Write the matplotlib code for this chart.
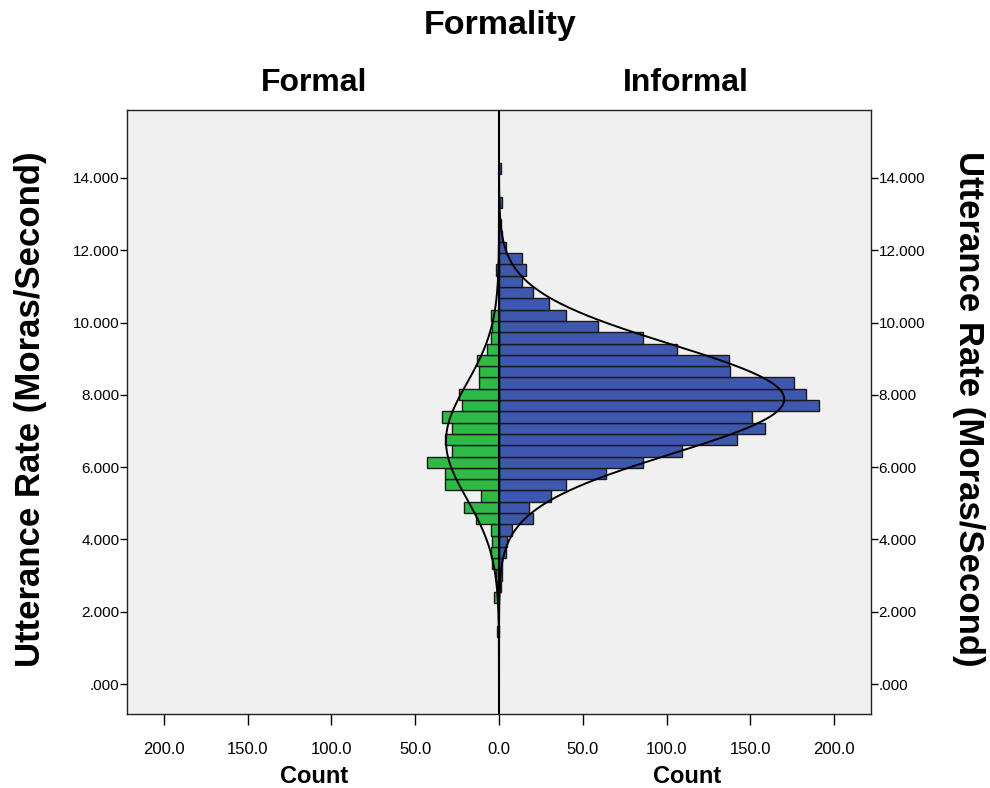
import matplotlib
matplotlib.use("Agg")
import matplotlib.pyplot as plt
import numpy as np
from matplotlib.ticker import FuncFormatter

# Histogram bins (Moras/Second), lowest bin first
bin_width = 0.3125
first_bin_low = 1.2935
informal_counts = [0, 0, 0, 0, 1, 2, 2, 4, 5, 8, 20, 18, 31, 40, 64, 86, 109, 142, 159, 151, 191,
                   183, 176, 138, 137, 106, 86, 59, 40, 30, 20, 14, 16, 14, 4, 2, 1, 0, 2, 0, 0, 1]
formal_counts = [1, 0, 0, 3, 1, 2, 4, 5, 4, 5, 14, 21, 11, 32, 32, 43, 28, 32, 28, 34, 22,
                 24, 12, 12, 13, 7, 5, 4, 5, 0, 0, 0, 2, 0, 0, 0, 0, 0, 0, 0, 0, 0]

# Normal curve parameters for each group
informal_mean, informal_sd = 7.88, 1.51
formal_mean, formal_sd = 6.72, 1.60

x_ticks = [-200, -150, -100, -50, 0, 50, 100, 150, 200]
y_ticks = [0, 2, 4, 6, 8, 10, 12, 14]

blue = '#3D58AC'
green = '#2DBA45'
font = ['Liberation Sans', 'DejaVu Sans']
plt.rcParams['font.family'] = font

informal = np.array(informal_counts, dtype=float)
formal = np.array(formal_counts, dtype=float)
centers = first_bin_low + bin_width * (np.arange(len(informal)) + 0.5)

fig = plt.figure(figsize=(9.9, 7.88), dpi=100)
ax = fig.add_axes([0.1283, 0.0939, 0.7515, 0.7665])
ax.set_facecolor('#F0F0F0')

keep = informal > 0
ax.barh(centers[keep], informal[keep], height=bin_width, color=blue,
        edgecolor='#1a1a1a', linewidth=1.0, zorder=2)
keep = formal > 0
ax.barh(centers[keep], -formal[keep], height=bin_width, color=green,
        edgecolor='#1a1a1a', linewidth=1.0, zorder=2)

# Normal curves scaled to counts
ylo, yhi = -0.83, 15.88
yy = np.linspace(ylo, yhi, 600)
def normal_counts(mean, sd, n):
    return n * bin_width / (sd * np.sqrt(2 * np.pi)) * np.exp(-0.5 * ((yy - mean) / sd) ** 2)

ax.plot(normal_counts(informal_mean, informal_sd, informal.sum()), yy, color='black', lw=1.4, zorder=3)
ax.plot(-normal_counts(formal_mean, formal_sd, formal.sum()), yy, color='black', lw=1.4, zorder=3)
ax.axvline(0, color='black', lw=1.5, zorder=4)

ax.set_xlim(-222, 222)
ax.set_ylim(ylo, yhi)
ax.set_xticks(x_ticks)
ax.xaxis.set_major_formatter(FuncFormatter(lambda v, p: f"{abs(v):.1f}"))
ax.set_yticks(y_ticks)

def rate_fmt(v, p):
    s = f"{v:.3f}"
    return s[1:] if s.startswith('0') else s

ax.yaxis.set_major_formatter(FuncFormatter(rate_fmt))
ax.tick_params(axis='x', direction='out', length=8, width=1, pad=12, labelsize=12)
ax.tick_params(axis='y', direction='out', length=5, width=1, pad=0.5, labelsize=11,
               left=True, right=True, labelleft=True, labelright=True)
for s in ax.spines.values():
    s.set_color('#222222')
    s.set_linewidth(1.0)

bold = dict(fontweight='bold', family=font)
fig.text(0.505, 0.968, 'Formality', ha='center', va='center', fontsize=24.5, **bold)
fig.text(0.317, 0.895, 'Formal', ha='center', va='center', fontsize=23, **bold)
fig.text(0.693, 0.895, 'Informal', ha='center', va='center', fontsize=23, **bold)
fig.text(0.317, 0.015, 'Count', ha='center', va='center', fontsize=17, **bold)
fig.text(0.694, 0.015, 'Count', ha='center', va='center', fontsize=17, **bold)
fig.text(0.031, 0.481, 'Utterance Rate (Moras/Second)', ha='center', va='center',
         rotation=90, fontsize=25, **bold)
fig.text(0.978, 0.481, 'Utterance Rate (Moras/Second)', ha='center', va='center',
         rotation=270, fontsize=25, **bold)

fig.savefig('out.png', dpi=100)
